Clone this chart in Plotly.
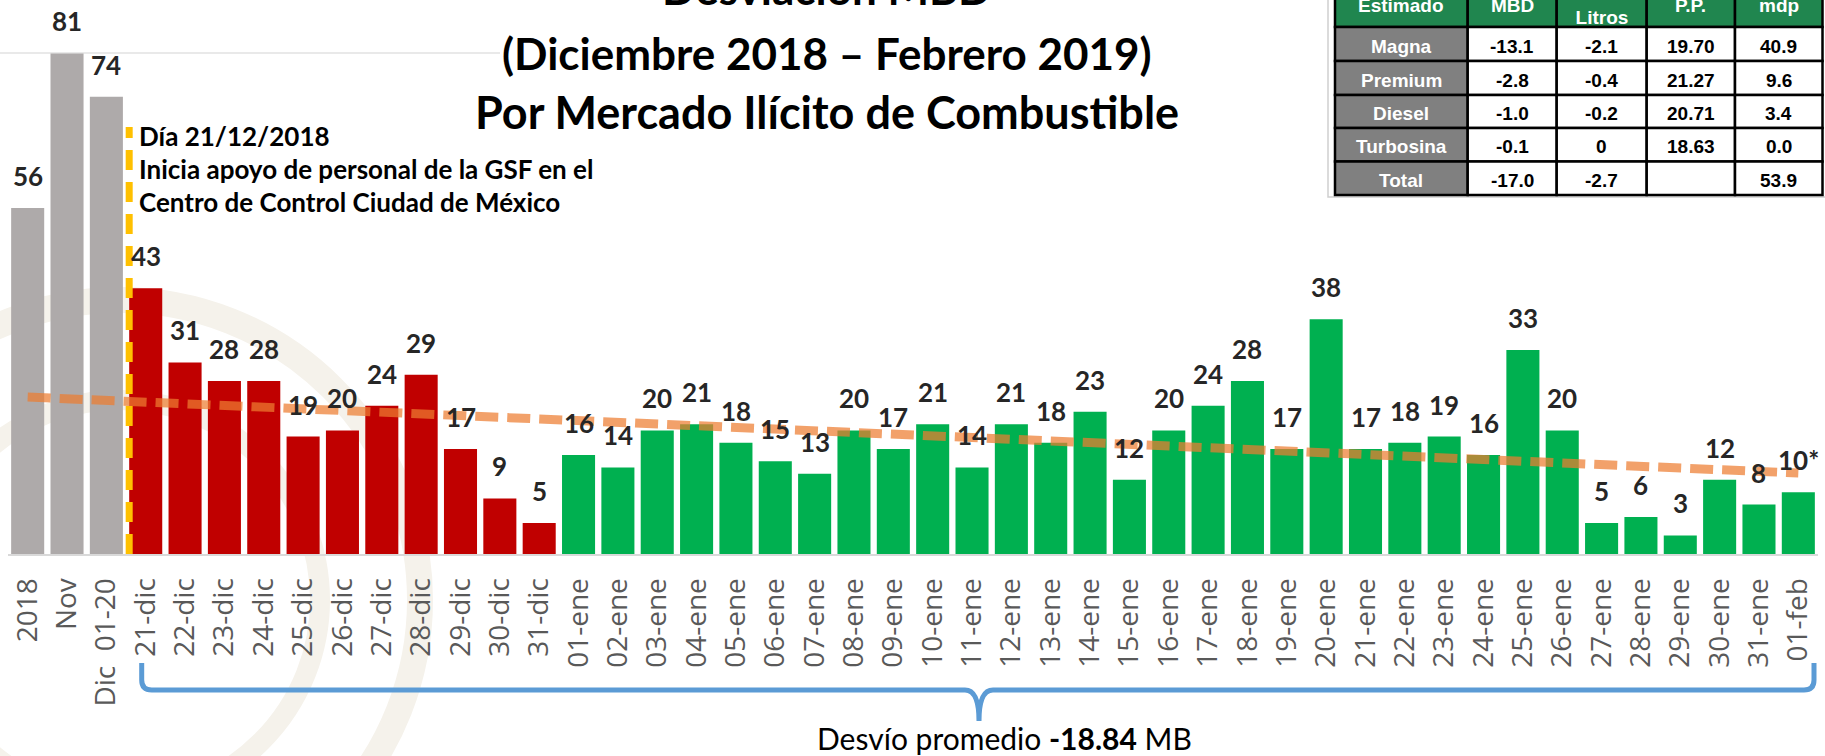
import plotly.graph_objects as go

# ---------------- data ----------------
prev_labels = ["2018", "Nov", "Dic\u00a0\u00a001-20"]
prev_values = [56, 81, 74]

dic_labels = ["21-dic", "22-dic", "23-dic", "24-dic", "25-dic", "26-dic",
              "27-dic", "28-dic", "29-dic", "30-dic", "31-dic"]
dic_values = [43, 31, 28, 28, 19, 20, 24, 29, 17, 9, 5]

ene_labels = ["01-ene", "02-ene", "03-ene", "04-ene", "05-ene", "06-ene", "07-ene",
              "08-ene", "09-ene", "10-ene", "11-ene", "12-ene", "13-ene", "14-ene",
              "15-ene", "16-ene", "17-ene", "18-ene", "19-ene", "20-ene", "21-ene",
              "22-ene", "23-ene", "24-ene", "25-ene", "26-ene", "27-ene", "28-ene",
              "29-ene", "30-ene", "31-ene", "01-feb"]
ene_values = [16, 14, 20, 21, 18, 15, 13, 20, 17, 21, 14, 21, 18, 23, 12, 20,
              24, 28, 17, 38, 17, 18, 19, 16, 33, 20, 5, 6, 3, 12, 8, 10]

label_notes = {"01-feb": "*"}

# trend line (start at first bar, end at last bar)
trend_x = ["2018", "01-feb"]
trend_y = [25.4, 13.1]

title_lines = ["Desviación MBD", "(Diciembre 2018 – Febrero 2019)",
               "Por Mercado Ilícito de Combustible"]
note_lines = ["Día 21/12/2018", "Inicia apoyo de personal de la GSF en el",
              "Centro de Control Ciudad de México"]
brace_text = "Desvío promedio <b>-18.84</b> MB"

tbl_header = ["Estimado", "MBD", "Millones<br>Litros", "P.P.", "mdp"]
tbl_tipo = ["Magna", "Premium", "Diesel", "Turbosina", "Total"]
tbl_mbd = ["-13.1", "-2.8", "-1.0", "-0.1", "-17.0"]
tbl_litros = ["-2.1", "-0.4", "-0.2", "0", "-2.7"]
tbl_pp = ["19.70", "21.27", "20.71", "18.63", ""]
tbl_mdp = ["40.9", "9.6", "3.4", "0.0", "53.9"]

# ---------------- layout helpers ----------------
W, H = 1825, 756
ML, MR, MB = 8, 7, 202
BASE = H - MB              # pixel row of the x axis
PLOT_W = W - ML - MR
PX_PER_UNIT = 6.18
YMAX = BASE / PX_PER_UNIT


def px2x(px):
    return (px - ML) / PLOT_W


def px2y(py):
    return (BASE - py) / BASE


GRAY, RED, GREEN = "#AEAAAA", "#C00000", "#00B050"
LABEL_FONT = "Lato"

categories = prev_labels + dic_labels + ene_labels
values = prev_values + dic_values + ene_values
colors = [GRAY] * len(prev_labels) + [RED] * len(dic_labels) + [GREEN] * len(ene_labels)
idx = {c: i for i, c in enumerate(categories)}

fig = go.Figure()
fig.add_trace(go.Bar(x=categories, y=values, marker=dict(color=colors, line=dict(width=0)),
                     hoverinfo="x+y", showlegend=False))
fig.add_trace(go.Scatter(x=trend_x, y=trend_y, mode="lines", showlegend=False,
                         line=dict(color="rgba(237,125,49,0.72)", width=9, dash="23px,9px"),
                         hoverinfo="skip"))

annotations = []
shapes = []

# faint background emblem (watermark) on the left
WM = "#F5F2EB"
for (cx, cy, r, w) in [(120, 600, 300, 26), (120, 600, 200, 20)]:
    shapes.append(dict(type="circle", xref="paper", yref="paper",
                       x0=px2x(cx - r), x1=px2x(cx + r), y0=px2y(cy - r), y1=px2y(cy + r),
                       line=dict(color=WM, width=w), layer="below"))

# bar value labels
LBL = 26
for c, v in zip(categories, values):
    annotations.append(dict(x=idx[c], y=v, xref="x", yref="y",
                            text="<b>%d%s</b>" % (v, label_notes.get(c, "")),
                            showarrow=False, yanchor="bottom", xanchor="center", yshift=15,
                            borderpad=0, font=dict(family=LABEL_FONT, size=LBL, color="#262626")))


def text_ann(txt, x_px, baseline_px, size, color="#000000", xanchor="center", family="Lato"):
    return dict(text=txt, x=px2x(x_px), y=px2y(baseline_px + 0.213 * size),
                xref="paper", yref="paper", xanchor=xanchor, yanchor="bottom",
                showarrow=False, borderpad=0,
                font=dict(family=family, size=size, color=color))


# title
for line, base, size in zip(title_lines, [6, 71, 130], [44, 44, 45]):
    annotations.append(text_ann("<b>%s</b>" % line, 827, base, size))

# note next to dashed line
for line, base in zip(note_lines, [147, 180, 213]):
    annotations.append(text_ann("<b>%s</b>" % line, 138, base, 26, xanchor="left"))

# brace text
annotations.append(text_ann(brace_text, 1004, 751, 30))

# faint slide line
shapes.append(dict(type="line", xref="paper", yref="paper", x0=px2x(0), x1=px2x(500),
                   y0=px2y(53), y1=px2y(53), line=dict(color="#E2E2E2", width=1.5), layer="below"))

# dashed vertical marker before 21-dic
marker_pos = idx["21-dic"] - 0.42
shapes.append(dict(type="line", xref="x", yref="paper", x0=marker_pos, x1=marker_pos,
                   y0=0, y1=px2y(127), line=dict(color="#FFC000", width=7, dash="20px,12px")))


# brace
def P(x, y):
    return "%f,%f" % (px2x(x), px2y(y))


bl, br, bm = 141.7, 1814, 979
top, mid, tip = 663, 690, 721
path = ("M " + P(bl, top) + " L " + P(bl, mid - 10) + " Q " + P(bl, mid) + " " + P(bl + 10, mid) +
        " L " + P(bm - 14, mid) + " Q " + P(bm, mid) + " " + P(bm, tip) +
        " Q " + P(bm, mid) + " " + P(bm + 14, mid) + " L " + P(br - 10, mid) +
        " Q " + P(br, mid) + " " + P(br, mid - 10) + " L " + P(br, top))
shapes.append(dict(type="path", xref="paper", yref="paper", path=path,
                   line=dict(color="#5B9BD5", width=5)))

# table
col_x = [1335, 1467.7, 1556.7, 1646.7, 1735, 1822.5]
row_y = [-17, 27, 61, 95, 128, 161.5, 195]
shapes.append(dict(type="rect", xref="paper", yref="paper", x0=px2x(1328), x1=px2x(1840),
                   y0=px2y(-10), y1=px2y(197), line=dict(color="#CFCFCF", width=1.5)))
columns = [tbl_tipo, tbl_mbd, tbl_litros, tbl_pp, tbl_mdp]
TF = "Liberation Sans"
for ci in range(5):
    x0, x1 = col_x[ci], col_x[ci + 1]
    xc = (x0 + x1) / 2
    shapes.append(dict(type="rect", xref="paper", yref="paper", x0=px2x(x0), x1=px2x(x1),
                       y0=px2y(row_y[0]), y1=px2y(row_y[1]), fillcolor="#20864F",
                       line=dict(color="#000000", width=2.5)))
    annotations.append(dict(text="<b>%s</b>" % tbl_header[ci], x=px2x(xc), y=px2y((row_y[0] + row_y[1]) / 2),
                            xref="paper", yref="paper", showarrow=False, xanchor="center",
                            yanchor="middle", borderpad=0,
                            font=dict(family=TF, size=19, color="white")))
    for ri in range(5):
        y0, y1 = row_y[ri + 1], row_y[ri + 2]
        fill = "#808080" if ci == 0 else "#FFFFFF"
        shapes.append(dict(type="rect", xref="paper", yref="paper", x0=px2x(x0), x1=px2x(x1),
                           y0=px2y(y0), y1=px2y(y1), fillcolor=fill,
                           line=dict(color="#000000", width=2.5)))
        annotations.append(dict(text="<b>%s</b>" % columns[ci][ri], x=px2x(xc),
                                y=px2y((y0 + y1) / 2), yshift=-2,
                                xref="paper", yref="paper", showarrow=False, xanchor="center",
                                yanchor="middle", borderpad=0,
                                font=dict(family=TF, size=19,
                                          color="white" if ci == 0 else "black")))

fig.update_layout(
    width=W, height=H,
    margin=dict(l=ML, r=MR, t=0, b=MB, pad=0, autoexpand=False),
    paper_bgcolor="white", plot_bgcolor="rgba(0,0,0,0)",
    bargap=0.16,
    showlegend=False,
    xaxis=dict(type="category", categoryorder="array", categoryarray=categories,
               range=[-0.5, len(categories) - 0.5], autorange=False,
               showline=True, linecolor="#D9D9D9", linewidth=2, ticks="",
               tickangle=-90, ticklabelstandoff=11, automargin=False,
               tickfont=dict(family="Open Sans", size=28, color="#595959"),
               showgrid=False, zeroline=False, fixedrange=True),
    yaxis=dict(range=[0, YMAX], autorange=False, visible=False, showgrid=False,
               zeroline=False, fixedrange=True),
    annotations=annotations,
    shapes=shapes,
)

fig.write_html("out.html", config={"displayModeBar": False, "staticPlot": True},
               post_script="document.body.style.margin='0px';document.body.style.padding='0px';")
